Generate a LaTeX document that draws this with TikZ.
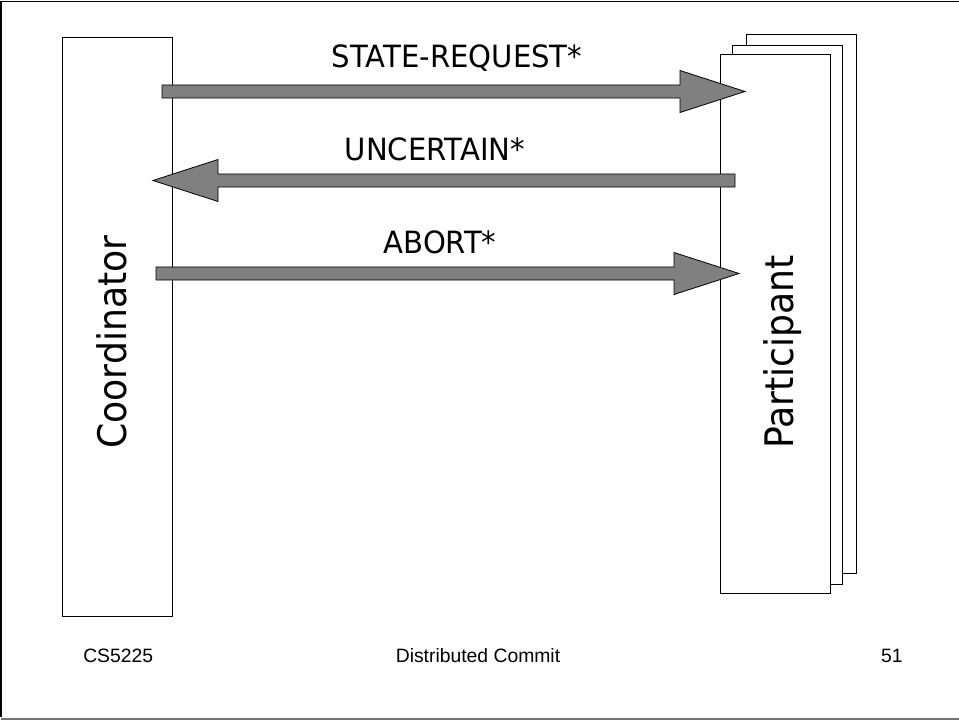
\documentclass[tikz,border=0pt]{standalone}
\usepackage{fontspec}
\setmainfont{DejaVu Sans}
\newfontfamily\labelfont[FakeStretch=0.95]{DejaVu Sans}
\newfontfamily\rolefont[FakeStretch=0.92]{DejaVu Sans}
\newfontfamily\footfont{Liberation Sans}
\usetikzlibrary{calc}

\tikzset{
  lifeline/.style={draw=black, line width=0.75pt, fill=white},
  msgarrow/.style={draw=black, line width=0.6pt, fill=black!50, line join=miter},
  msglabel/.style={anchor=base, inner sep=0pt, font=\labelfont\fontsize{23}{27}\selectfont},
  rolelabel/.style={rotate=90, anchor=base west, inner sep=0pt, font=\rolefont\fontsize{29.5}{35}\selectfont},
  footer/.style={anchor=base, inner sep=0pt, font=\footfont\fontsize{14.5}{17}\selectfont}
}

% horizontal block arrow from #1 to #2 (tip at #2)
\newcommand\blockarrow[2]{%
  \draw[msgarrow] let \p1=(#1), \p2=(#2), \n1={ifthenelse(\x2>\x1,1,-1)} in
    (\x1,\y1+4.9pt) -- (\x2-\n1*48.75pt,\y1+4.9pt) -- (\x2-\n1*48.75pt,\y1+15.75pt)
    -- (\x2,\y2) -- (\x2-\n1*48.75pt,\y1-15.75pt) -- (\x2-\n1*48.75pt,\y1-4.9pt)
    -- (\x1,\y1-4.9pt) -- cycle;}

\begin{document}
\begin{tikzpicture}[x=0.75pt, y=-0.75pt]
  \useasboundingbox (0,0) rectangle (959,720);

  % slide frame
  \draw[black, line width=1.2pt] (962,1.5) -- (1.2,1.5) -- (1.2,717);
  \draw[black!55, line width=1.5pt] (1.2,718.5) -- (962,718.5);

  % coordinator lifeline
  \draw[lifeline] (62,38) rectangle (172,616);
  \node[rolelabel] (coord) at (126,449) {Coordinator};

  % stacked participant pages, back to front
  \draw[lifeline] (746,35) rectangle (856,573);
  \draw[lifeline] (732,46) rectangle (842,584);
  \draw[lifeline] (720,55) rectangle (830,593);
  \node[rolelabel] (part) at (793,449) {Participant};

  % message end points
  \coordinate (m1s) at (162,91.5);
  \coordinate (m1e) at (745,91.5);
  \coordinate (m2s) at (735,180.5);
  \coordinate (m2e) at (153,180.5);
  \coordinate (m3s) at (156,273.5);
  \coordinate (m3e) at (739,273.5);

  \blockarrow{m1s}{m1e}
  \blockarrow{m2s}{m2e}
  \blockarrow{m3s}{m3e}

  \node[msglabel] (l1) at (457,68) {STATE-REQUEST*};
  \node[msglabel] (l2) at (435,160.5) {UNCERTAIN*};
  \node[msglabel] (l3) at (440,253) {ABORT*};

  % footer
  \node[footer, anchor=base west] (f1) at (83,662) {CS5225};
  \node[footer] (f2) at (478,662) {Distributed Commit};
  \node[footer, anchor=base east] (f3) at (903,662) {51};
\end{tikzpicture}
\end{document}
